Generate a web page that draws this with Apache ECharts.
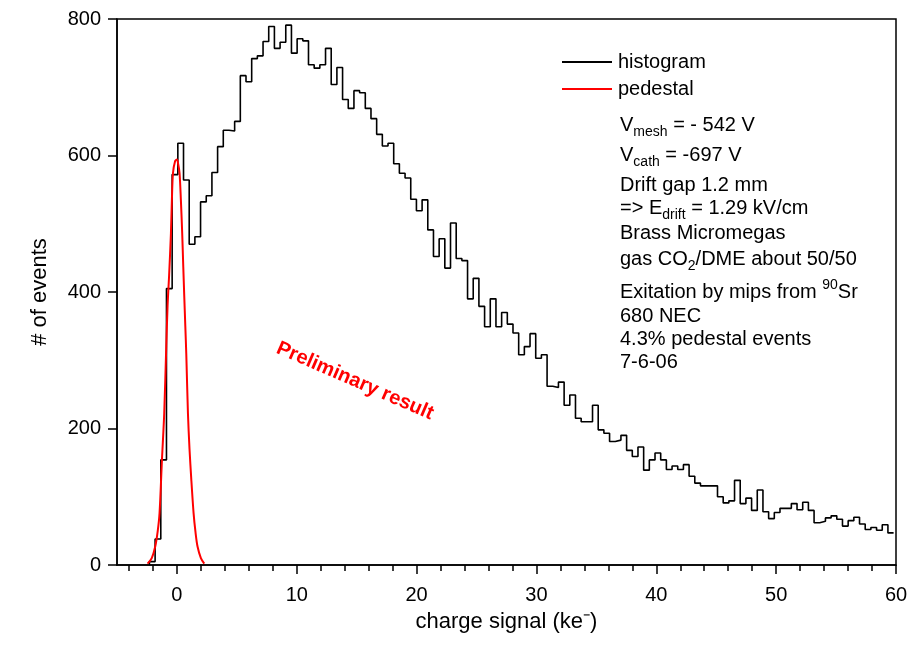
<!DOCTYPE html>
<html>
<head>
<meta charset="utf-8">
<title>charge signal histogram</title>
<script src="https://cdn.jsdelivr.net/npm/echarts@6/dist/echarts.min.js"></script>
<style>
    html, body { margin: 0; padding: 0; background: #fff; }
    #chart { width: 912px; height: 659px; }
</style>
</head>
<body>
<div id="chart"></div>
<script>
    // histogram bins (ke-)
    const binStart = -2.294
    const binWidth = 0.474
    const histCounts = [
        5, 38, 154, 405, 572, 618, 564, 470, 481, 532,
        541, 575, 613, 637, 636, 650, 717, 708, 742, 746,
        767, 789, 757, 766, 791, 750, 771, 768, 733, 728,
        733, 757, 704, 729, 682, 669, 695, 692, 669, 654,
        631, 614, 618, 588, 574, 567, 536, 519, 535, 491,
        452, 478, 435, 501, 449, 446, 390, 420, 379, 349,
        390, 349, 370, 353, 340, 308, 320, 339, 303, 308,
        262, 260, 268, 234, 249, 215, 210, 210, 234, 198,
        193, 181, 183, 190, 168, 159, 173, 139, 154, 164,
        154, 140, 145, 140, 147, 130, 120, 116, 116, 116,
        100, 91, 94, 124, 90, 98, 80, 110, 78, 68,
        77, 83, 83, 90, 81, 92, 80, 62, 64, 69,
        72, 67, 57, 65, 70, 60, 52, 55, 51, 59,
        47
    ]

    // pedestal curve
    const pedX = [-2.45, -2.1, -1.81, -1.6, -1.45, -1.25, -1.06, -0.89, -0.78, -0.65,
        -0.5, -0.42, -0.33, -0.15, 0, 0.1, 0.22, 0.33, 0.44, 0.53,
        0.61, 0.7, 0.78, 0.92, 1.05, 1.19, 1.39, 1.55, 1.72, 2.0, 2.28]
    const pedY = [2, 10, 27, 50, 76, 154, 222, 320, 380, 425,
        486, 535, 574, 592, 594, 588, 574, 535, 486, 437,
        395, 350, 310, 222, 170, 128, 76, 48, 27, 10, 2]

    const xMajorTicks = [0, 10, 20, 30, 40, 50, 60]
    const xMinorTicks = [-4, -2, 2, 4, 6, 8, 12, 14, 16, 18, 22, 24, 26, 28, 32, 34, 36, 38,
        42, 44, 46, 48, 52, 54, 56, 58]

    const FONT = '"Liberation Sans", Arial, sans-serif'

    // step line: value of each point is held from previous edge
    let histData = [[binStart, 0]]
    histCounts.forEach((c, i) => {
        histData.push([binStart + (i + 1) * binWidth, c])
    })
    let pedData = pedX.map((x, i) => [x, pedY[i]])

    let myChart = echarts.init(document.getElementById('chart'))

    const subRich = {
        n: { fontSize: 20, fontFamily: FONT, lineHeight: 20, verticalAlign: 'top', fill: '#000' },
        sub: { fontSize: 14, fontFamily: FONT, lineHeight: 14, padding: [10, 0, 0, 0], verticalAlign: 'top', fill: '#000' },
        sn: { fontSize: 20, fontFamily: FONT, lineHeight: 20, padding: [4, 0, 0, 0], verticalAlign: 'top', fill: '#000' },
        sup: { fontSize: 14, fontFamily: FONT, lineHeight: 14, verticalAlign: 'top', fill: '#000' }
    }

    function richLine(text, centerY) {
        return {
            type: 'text',
            x: 620,
            y: centerY - 10,
            style: { text: text, rich: subRich, verticalAlign: 'top', align: 'left' }
        }
    }
    function plainLine(text, centerY) {
        return {
            type: 'text',
            x: 620,
            y: centerY,
            style: { text: text, fontSize: 20, fontFamily: FONT, fill: '#000', verticalAlign: 'middle', align: 'left' }
        }
    }

    myChart.setOption({
        animation: false,
        grid: {
            left: 117,
            right: 16,
            top: 19,
            bottom: 94,
            show: true,
            borderColor: '#000',
            borderWidth: 1.5
        },
        legend: {
            orient: 'vertical',
            left: 557,
            top: 47,
            icon: 'rect',
            itemWidth: 50,
            itemHeight: 2,
            itemGap: 7,
            textStyle: { fontSize: 20, fontFamily: FONT, color: '#000', padding: [0, 0, 0, 1] },
            data: ['histogram', 'pedestal']
        },
        xAxis: [
            {
                type: 'value',
                min: -5,
                max: 60,
                interval: 5,
                name: 'charge signal (ke\u207B)',
                nameLocation: 'middle',
                nameGap: 46,
                nameTextStyle: { fontSize: 22, fontFamily: FONT, color: '#000' },
                splitLine: { show: false },
                axisLine: { onZero: false, lineStyle: { color: '#000', width: 1.5 } },
                axisTick: { show: true, length: 9, customValues: xMajorTicks, lineStyle: { color: '#000', width: 1.5 } },
                axisLabel: { customValues: xMajorTicks, fontSize: 20, fontFamily: FONT, color: '#000', margin: 20 }
            },
            {
                type: 'value',
                min: -5,
                max: 60,
                interval: 5,
                position: 'bottom',
                splitLine: { show: false },
                axisLine: { show: false, onZero: false },
                axisLabel: { show: false },
                axisTick: { show: true, length: 6, customValues: xMinorTicks, lineStyle: { color: '#000', width: 1.5 } }
            }
        ],
        yAxis: {
            type: 'value',
            min: 0,
            max: 800,
            interval: 200,
            name: '# of events',
            nameLocation: 'middle',
            nameGap: 66,
            nameTextStyle: { fontSize: 22, fontFamily: FONT, color: '#000' },
            splitLine: { show: false },
            axisLine: { show: true, onZero: false, lineStyle: { color: '#000', width: 1.5 } },
            axisTick: { show: true, length: 9, lineStyle: { color: '#000', width: 1.5 } },
            axisLabel: { fontSize: 20, fontFamily: FONT, color: '#000', margin: 16 }
        },
        series: [
            {
                name: 'histogram',
                type: 'line',
                step: 'start',
                symbol: 'none',
                data: histData,
                lineStyle: { color: '#000', width: 1.6 },
                itemStyle: { color: '#000' }
            },
            {
                name: 'pedestal',
                type: 'line',
                smooth: 0.3,
                symbol: 'none',
                data: pedData,
                lineStyle: { color: '#ff0000', width: 2 },
                itemStyle: { color: '#ff0000' }
            }
        ],
        graphic: [
            richLine('{n|V}{sub|mesh}{n| = - 542 V}', 125),
            richLine('{n|V}{sub|cath}{n| = -697 V}', 155),
            plainLine('Drift gap 1.2 mm', 185.5),
            richLine('{n|=> E}{sub|drift}{n| = 1.29 kV/cm}', 208.5),
            plainLine('Brass Micromegas', 233),
            richLine('{n|gas CO}{sub|2}{n|/DME about 50/50}', 259),
            {
                type: 'text',
                x: 620,
                y: 292.5 - 14,
                style: { text: '{sn|Exitation by mips from }{sup|90}{sn|Sr}', rich: subRich, verticalAlign: 'top', align: 'left' }
            },
            plainLine('680 NEC', 316),
            plainLine('4.3% pedestal events', 339),
            plainLine('7-6-06', 362.5),
            {
                type: 'text',
                x: 355,
                y: 381,
                rotation: -0.41,
                style: {
                    text: 'Preliminary result',
                    fontSize: 20,
                    fontWeight: 'bold',
                    fontFamily: FONT,
                    fill: '#ff0000',
                    align: 'center',
                    verticalAlign: 'middle'
                }
            }
        ]
    })
</script>
</body>
</html>
